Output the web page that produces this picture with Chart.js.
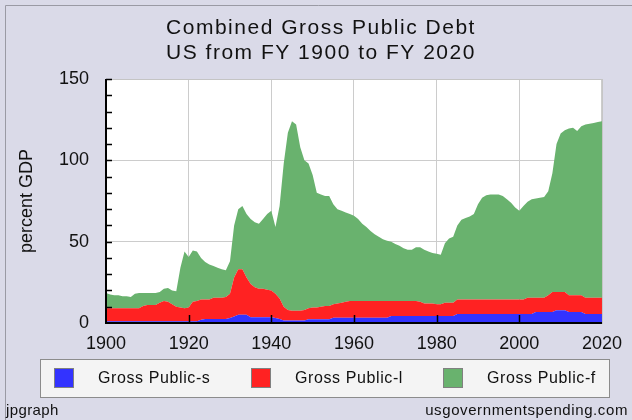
<!DOCTYPE html>
<html>
<head>
<meta charset="utf-8">
<script src="https://cdn.jsdelivr.net/npm/chart.js@4/dist/chart.umd.min.js"></script>
<style>
    html, body { margin: 0; padding: 0; background: #dadae8; }
    canvas { display: block; }
</style>
</head>
<body>
<canvas id="debt" width="632" height="420"></canvas>
<script>
var years = [
    1900, 1901, 1902, 1903, 1904, 1905, 1906, 1907, 1908, 1909,
    1910, 1911, 1912, 1913, 1914, 1915, 1916, 1917, 1918, 1919,
    1920, 1921, 1922, 1923, 1924, 1925, 1926, 1927, 1928, 1929,
    1930, 1931, 1932, 1933, 1934, 1935, 1936, 1937, 1938, 1939,
    1940, 1941, 1942, 1943, 1944, 1945, 1946, 1947, 1948, 1949,
    1950, 1951, 1952, 1953, 1954, 1955, 1956, 1957, 1958, 1959,
    1960, 1961, 1962, 1963, 1964, 1965, 1966, 1967, 1968, 1969,
    1970, 1971, 1972, 1973, 1974, 1975, 1976, 1977, 1978, 1979,
    1980, 1981, 1982, 1983, 1984, 1985, 1986, 1987, 1988, 1989,
    1990, 1991, 1992, 1993, 1994, 1995, 1996, 1997, 1998, 1999,
    2000, 2001, 2002, 2003, 2004, 2005, 2006, 2007, 2008, 2009,
    2010, 2011, 2012, 2013, 2014, 2015, 2016, 2017, 2018, 2019,
    2020
];

// percent of GDP, stacked s + l + f
var grossS = [
    1, 1, 1, 1, 1, 1, 1, 1, 1, 1,
    1, 1, 1, 1, 1, 1, 1, 1, 1, 1,
    1, 1, 1, 2, 2.5, 2.5, 2.5, 2.5, 2.5, 2.5,
    3, 4, 5, 5, 5, 3.5, 3.5, 3.5, 3.5, 3.5,
    3.5, 3, 2.5, 1.5, 1.5, 1.5, 1.5, 1.5, 1.5, 2.3,
    2.3, 2.3, 2.3, 2.3, 2.3, 3.3, 3.3, 3.3, 3.3, 3.3,
    3.3, 3.3, 3.3, 3.3, 3.3, 3.3, 3.3, 3.3, 3.3, 4.3,
    4.3, 4.3, 4.3, 4.3, 4.3, 4.3, 4.3, 4.3, 4.3, 4.3,
    4.3, 4.3, 4.3, 4.3, 4.3, 5.5, 5.5, 5.5, 5.5, 5.5,
    5.5, 5.5, 5.5, 5.5, 5.5, 5.5, 5.5, 5.5, 5.5, 5.5,
    5.5, 5.5, 5.5, 5.5, 6.8, 6.8, 6.8, 6.8, 6.8, 7.8,
    7.8, 7.8, 6.8, 6.8, 6.8, 6.8, 5.5, 5.5, 5.5, 5.5,
    5.5
];

var grossL = [
    8, 8, 8, 8, 8, 8, 8, 8, 8, 9.5,
    10, 10, 10, 11.5, 12.5, 12, 10.5, 9, 8.5, 8,
    8.5, 12, 12.5, 12.5, 12, 12, 13, 13, 13, 13.5,
    15, 24, 28, 28, 23, 20.5, 18.5, 17.5, 17.5, 17,
    16.5, 15, 12.5, 8.5, 6.5, 6, 6, 6, 6.5, 6.7,
    7.2, 7.2, 7.7, 8.2, 8.2, 8.2, 8.7, 9.2, 9.7, 10.2,
    10.2, 10.2, 10.2, 10.2, 10.2, 10.2, 10.2, 10.2, 10.2, 9.2,
    9.2, 9.2, 9.2, 9.2, 9.2, 9.2, 8.7, 7.7, 7.7, 7.7,
    7.2, 7.2, 8.2, 8.2, 8.2, 9, 9, 9, 9, 9,
    9, 9, 9, 9, 9, 9, 9, 9, 9, 9,
    9, 9, 10, 10, 8.7, 8.7, 8.7, 10.2, 12.2, 11.2,
    11.2, 11.2, 10.2, 10.2, 10.2, 10.2, 10, 10, 10, 10,
    10
];

var grossF = [
    9.5, 8.5, 8, 8, 7.5, 7.5, 7, 9, 9.5, 8,
    7.5, 7.5, 7.5, 6.5, 7.5, 8.5, 8.5, 9.5, 24.5, 35,
    31, 31.5, 30.5, 25.5, 23, 21.5, 19.5, 18.5, 17.5, 16.5,
    20, 32, 37, 39, 39, 40, 40, 40, 43, 46.5,
    49, 41, 57, 88, 109, 116.5, 114.5, 100.5, 92, 89,
    81.5, 70.5, 69, 67.5, 67.5, 61.5, 58, 56.5, 55, 53.5,
    52.5, 50.5, 47.5, 45.5, 43, 41, 39.5, 38, 37, 36.5,
    35, 34, 32.5, 31.5, 31.5, 33, 33.5, 33, 32, 31,
    31, 30.5, 36.5, 39.5, 40.5, 45.5, 49, 50, 51, 52.5,
    58.5, 62.5, 64, 64.5, 64.5, 64.5, 63.5, 61.5, 59.5, 56.5,
    54.5, 57.5, 59, 60.5, 61, 61.5, 62, 64, 73, 91,
    97.5, 99.5, 102.5, 103, 101, 104, 106.5, 107, 107.5, 108,
    108.5
];

var seriesNames = ['Gross Public-s', 'Gross Public-l', 'Gross Public-f'];
var seriesColors = ['#3333ff', '#ff2222', '#69b26e'];
var titleLines = ['Combined Gross Public Debt', 'US from FY 1900 to FY 2020'];

var FONT = '"Liberation Sans", Arial, sans-serif';

function spacedText(ctx, text, x, y, align, spacing) {
    ctx.save();
    ctx.letterSpacing = spacing + 'px';
    ctx.textAlign = align;
    ctx.textBaseline = 'middle';
    ctx.fillText(text, x, y);
    ctx.restore();
}

var jpFrame = {
    id: 'jpFrame',
    beforeDraw: function (chart) {
        var ctx = chart.ctx, a = chart.chartArea;
        ctx.save();
        ctx.fillStyle = '#dadae8';
        ctx.fillRect(0, 0, chart.width, chart.height);
        ctx.strokeStyle = '#9a9aa4';
        ctx.lineWidth = 1;
        ctx.beginPath();
        ctx.moveTo(5.5, chart.height);
        ctx.lineTo(5.5, 5.5);
        ctx.lineTo(chart.width, 5.5);
        ctx.stroke();
        ctx.fillStyle = '#ffffff';
        ctx.fillRect(a.left, a.top, a.right - a.left, a.bottom - a.top);
        ctx.restore();
    },
    afterDatasetsDraw: function (chart) {
        var ctx = chart.ctx, a = chart.chartArea;
        var xs = chart.scales.x, ys = chart.scales.y;
        ctx.save();
        ctx.strokeStyle = '#c4c4c4';
        ctx.lineWidth = 1;
        ctx.strokeRect(a.left + 0.5, a.top + 0.5, a.right - a.left, a.bottom - a.top);

        ctx.strokeStyle = '#000000';
        ctx.lineWidth = 2;
        ctx.beginPath();
        ctx.moveTo(a.left, a.top);
        ctx.lineTo(a.left, a.bottom);
        ctx.lineTo(a.right, a.bottom);
        ctx.stroke();

        ctx.lineWidth = 1.5;
        ctx.beginPath();
        for (var v = 10; v <= 150; v += 10) {
            var py = Math.round(ys.getPixelForValue(v)) + 0.5;
            ctx.moveTo(a.left, py);
            ctx.lineTo(a.left + 6, py);
        }
        for (var i = 0; i < years.length; i++) {
            if (years[i] % 20 !== 0 || i === 0 || i === years.length - 1) continue;
            var px = Math.round(xs.getPixelForValue(i)) + 0.5;
            ctx.moveTo(px, a.bottom);
            ctx.lineTo(px, a.bottom - 8);
        }
        ctx.stroke();
        ctx.restore();
    },
    afterDraw: function (chart) {
        var ctx = chart.ctx;
        ctx.save();
        ctx.fillStyle = '#111111';
        ctx.font = '21px ' + FONT;
        spacedText(ctx, titleLines[0], 321, 28, 'center', 1.5);
        spacedText(ctx, titleLines[1], 321, 53, 'center', 1.5);

        // legend box
        ctx.fillStyle = '#f4f4f4';
        ctx.fillRect(40, 359, 569, 38);
        ctx.strokeStyle = '#8c8c8c';
        ctx.lineWidth = 1;
        ctx.strokeRect(40.5, 359.5, 569, 38);
        var swatchX = [54, 251, 443];
        ctx.font = '16px ' + FONT;
        for (var i = 0; i < seriesNames.length; i++) {
            ctx.fillStyle = seriesColors[i];
            ctx.fillRect(swatchX[i], 368, 20, 20);
            ctx.strokeStyle = '#808080';
            ctx.strokeRect(swatchX[i] + 0.5, 368.5, 19, 19);
            ctx.fillStyle = '#111111';
            spacedText(ctx, seriesNames[i], swatchX[i] + 44, 379, 'left', 0.6);
        }

        ctx.font = '15px ' + FONT;
        ctx.fillStyle = '#111111';
        spacedText(ctx, 'jpgraph', 6, 411, 'left', 0.4);
        spacedText(ctx, 'usgovernmentspending.com', 628, 411, 'right', 0.6);
        ctx.restore();
    }
};

new Chart(document.getElementById('debt'), {
    type: 'line',
    data: {
        labels: years,
        datasets: [grossS, grossL, grossF].map(function (vals, i) {
            return {
                label: seriesNames[i],
                data: vals,
                backgroundColor: seriesColors[i],
                borderColor: seriesColors[i],
                borderWidth: 0,
                pointRadius: 0,
                tension: 0,
                fill: i === 0 ? 'origin' : '-1'
            };
        })
    },
    options: {
        responsive: false,
        animation: false,
        devicePixelRatio: 1,
        layout: { padding: { left: 0, right: 22, top: 79, bottom: 57 } },
        plugins: {
            legend: { display: false },
            tooltip: { enabled: false }
        },
        scales: {
            x: {
                offset: false,
                border: { display: false },
                grid: {
                    drawTicks: false,
                    color: function (c) {
                        var y = years[c.index];
                        return (y === 1900 || y === 2020) ? 'rgba(0,0,0,0)' : '#cccccc';
                    }
                },
                ticks: {
                    autoSkip: false,
                    maxRotation: 0,
                    padding: 10,
                    color: '#111111',
                    font: { family: FONT, size: 18 },
                    callback: function (val, i) {
                        return years[i] % 20 === 0 ? String(years[i]) : null;
                    }
                },
                afterFit: function (s) { s.height = 40; }
            },
            y: {
                stacked: true,
                min: 0,
                max: 150,
                border: { display: false },
                grid: {
                    drawTicks: false,
                    color: function (c) {
                        var v = c.tick.value;
                        return (v === 0 || v === 150) ? 'rgba(0,0,0,0)' : '#cccccc';
                    }
                },
                ticks: {
                    stepSize: 10,
                    padding: 17,
                    color: '#111111',
                    font: { family: FONT, size: 18 },
                    callback: function (v) { return v % 50 === 0 ? v : null; }
                },
                title: {
                    display: true,
                    text: 'percent GDP',
                    color: '#111111',
                    font: { family: FONT, size: 18 },
                    padding: { top: 16, bottom: 0 }
                },
                afterFit: function (s) { s.width = 106; }
            }
        }
    },
    plugins: [jpFrame]
});
</script>
</body>
</html>
